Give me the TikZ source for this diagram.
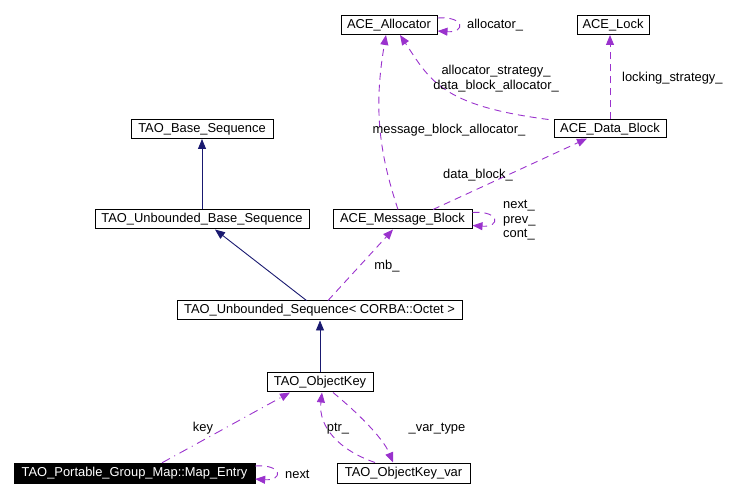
\documentclass[tikz,border=0pt]{standalone}
\usepackage{fontspec}
\setmainfont{Liberation Sans}
\usetikzlibrary{arrows.meta,calc}
\definecolor{edgepurple}{HTML}{9A32CD}
\definecolor{edgenavy}{HTML}{191970}
\begin{document}
\begin{tikzpicture}[x=1pt,y=-1pt,
  font=\fontsize{12.9}{15}\selectfont,
  cls/.style={draw=black,line width=1pt,fill=white,inner sep=0pt,minimum height=19pt,anchor=center},
  clsdark/.style={draw=black,fill=black,text=white,inner sep=0pt,minimum height=20pt,anchor=center},
  inherit/.style={draw=edgenavy,line width=0.9pt,-{Triangle[length=10pt,width=8pt]}},
  usage/.style={draw=edgepurple,line width=0.9pt,dash pattern=on 7pt off 5pt,-{Triangle[length=10pt,width=8pt]}},
  usagekey/.style={draw=edgepurple,line width=0.9pt,dash pattern=on 9pt off 5pt on 1pt off 5pt,-{Triangle[length=10pt,width=8pt]}},
  lbl/.style={inner sep=0pt,align=center}
]
\useasboundingbox (0,0) rectangle (740,497);

% nodes
\node[cls,minimum width=96pt] (alloc) at (389,25) {ACE\_Allocator};
\node[cls,minimum width=72pt] (lock) at (613,25) {ACE\_Lock};
\node[cls,minimum width=112pt,minimum height=18pt] (datablock) at (610,129) {ACE\_Data\_Block};
\node[cls,minimum width=139pt] (msgblock) at (402.5,219.5) {ACE\_Message\_Block};
\node[cls,minimum width=142pt] (baseseq) at (202,129) {TAO\_Base\_Sequence};
\node[cls,minimum width=214pt] (ubs) at (202,219.5) {TAO\_Unbounded\_Base\_Sequence};
\node[cls,minimum width=285pt] (useq) at (319.5,310.5) {TAO\_Unbounded\_Sequence< CORBA::Octet >};
\node[cls,minimum width=106pt] (okey) at (320,382.5) {TAO\_ObjectKey};
\node[clsdark,minimum width=241pt] (mapentry) at (134.5,473) {TAO\_Portable\_Group\_Map::Map\_Entry};
\node[cls,minimum width=133pt,minimum height=20pt] (okvar) at (403.5,473) {TAO\_ObjectKey\_var};

% inheritance
\draw[inherit] (ubs.north) -- (baseseq.south);
\draw[inherit] ([xshift=-13pt]useq.north) -- ([xshift=13pt]ubs.south);
\draw[inherit] (okey.north) -- (useq.south -| okey.north);

% usage
\draw[usage] ([xshift=8.5pt]useq.north) -- ([xshift=-9.5pt]msgblock.south);
\draw[usage] ([xshift=-4.5pt]msgblock.north) .. controls +(-20,-60) and +(-12,70) .. ([xshift=-3pt]alloc.south);
\draw[usage] ([xshift=30.5pt]msgblock.north) -- ([xshift=-23pt]datablock.south);
\draw[usage] ([xshift=-5pt]datablock.north west) .. controls +(-108,-14) and +(30,45) .. ([xshift=11pt]alloc.south);
\draw[usage] (datablock.north) -- (datablock.north |- lock.south);
\draw[usage] ([yshift=7pt]alloc.east) .. controls +(28,-2) and +(28,2) .. ([yshift=-6pt]alloc.east);
\draw[usage] ([yshift=7pt]msgblock.east) .. controls +(28,-2) and +(28,2) .. ([yshift=-6pt]msgblock.east);
\draw[usagekey] ([xshift=27.5pt]mapentry.north) -- ([xshift=-30pt]okey.south);
\draw[usage] ([xshift=-28.5pt]okvar.north) .. controls +(-35,-12) and +(-4,35) .. ([xshift=2pt]okey.south);
\draw[usage] ([xshift=13pt]okey.south) .. controls +(22,18) and +(-10,-25) .. ([xshift=-10.5pt]okvar.north);
\draw[usage] ([yshift=7pt]mapentry.east) .. controls +(28,-2) and +(28,2) .. ([yshift=-6pt]mapentry.east);

% labels
\node[lbl,anchor=west] (lalloc) at (467,25) {allocator\_};
\node[lbl] (lstrat) at (496,78.5) {allocator\_strategy\_\\[-0.5pt]data\_block\_allocator\_};
\node[lbl,anchor=west] (llock) at (622,78) {locking\_strategy\_};
\node[lbl] (lmba) at (449,130) {message\_block\_allocator\_};
\node[lbl] (ldb) at (478,175) {data\_block\_};
\node[lbl,anchor=west,align=left] (lnext) at (503,220.5) {next\_\\[-0.5pt]prev\_\\[-0.5pt]cont\_};
\node[lbl] (lmb) at (387,266) {mb\_};
\node[lbl] (lkey) at (203,428) {key};
\node[lbl] (lptr) at (338,429) {ptr\_};
\node[lbl] (lvar) at (437,429) {\_var\_type};
\node[lbl,anchor=west] (lme) at (285,474) {next};
\end{tikzpicture}
\end{document}
